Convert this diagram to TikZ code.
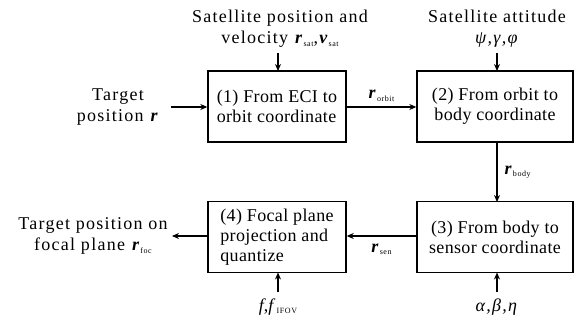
\documentclass[tikz,border=0pt]{standalone}
\usepackage{fontspec}
\setmainfont{Liberation Serif}
\newfontfamily\spaced[LetterSpace=7]{Liberation Serif}
\newfontfamily\boxfont[LetterSpace=2]{Liberation Serif}
\usetikzlibrary{arrows.meta}
% bold-italic vector with a small upright subscript
\newcommand{\smallsub}[1]{\raisebox{-0.3ex}{\fontsize{8}{9}\selectfont #1}}
\newcommand{\vecsub}[2]{\textbf{\textit{#1}}\smallsub{#2}}
\tikzset{
  blockbox/.style={draw, line width=1.4pt, minimum width=138pt, minimum height=71pt,
    align=left, font=\boxfont\fontsize{18}{20}\selectfont, inner sep=5pt},
  blockbox2/.style={blockbox, minimum width=156pt, align=center},
  lbl/.style={align=center, font=\spaced\fontsize{18}{21}\selectfont, inner sep=1pt},
  flow/.style={-{Stealth[length=7pt,width=6pt]}, line width=1.1pt},
}
\begin{document}
\begin{tikzpicture}[x=1pt,y=-1pt]
\useasboundingbox (0,0) rectangle (580,320);
% processing blocks
\node[blockbox] (b1) at (277,106.5) {(1) From ECI to\\orbit coordinate};
\node[blockbox2] (b2) at (495,106.5) {(2) From orbit to\\body coordinate};
\node[blockbox2] (b3) at (495,237) {(3) From body to\\sensor coordinate};
\node[blockbox] (b4) at (277,237) {(4) Focal plane\\projection and\\quantize};
% external inputs and outputs
\node[lbl] (satpos) at (280,29) {Satellite position and\\velocity \vecsub{r}{sat},\vecsub{v}{sat}};
\node[lbl] (satatt) at (497,29) {Satellite attitude\\\textit{ψ,γ,φ}};
\node[lbl] (target) at (118,107) {Target\\position \textbf{\textit{r}}};
\node[lbl] (focal) at (93,236) {Target position on\\focal plane \vecsub{r}{foc}};
\node[lbl] (fpar) at (278,307) {\textit{f},\textit{f}\smallsub{IFOV}};
\node[lbl] (spar) at (497,307) {\textit{α,β,η}};
% connectors
\draw[flow] (278,53) -- (278,71);
\draw[flow] (497,53) -- (497,71);
\draw[flow] (171,107) -- (b1.west |- 0,107);
\draw[flow] (b1.east |- 0,107) -- node[above=4pt, lbl] {\vecsub{r}{orbit}} (b2.west |- 0,107);
\draw[flow] (497,142) -- node[right=6pt, lbl] {\vecsub{r}{body}} (497,202);
\draw[flow] (b3.west |- 0,236) -- node[below=6pt, lbl] {\vecsub{r}{sen}} (b4.east |- 0,236);
\draw[flow] (b4.west |- 0,236) -- (172,236);
\draw[flow] (278,292) -- (278,272.5);
\draw[flow] (497,292) -- (497,272.5);
\end{tikzpicture}
\end{document}
